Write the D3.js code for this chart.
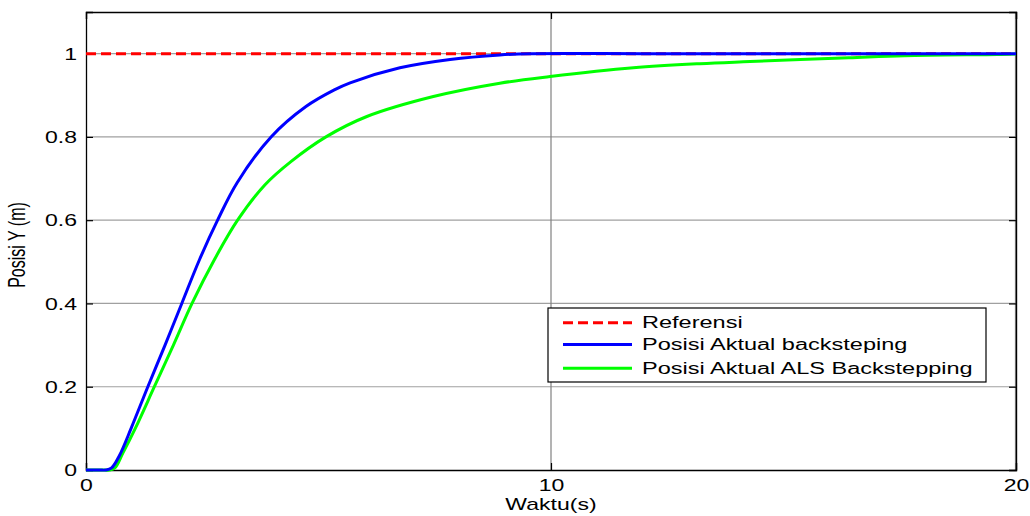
<!DOCTYPE html>
<html><head><meta charset="utf-8">
<script src="https://cdn.jsdelivr.net/npm/d3@7"></script>
<style>
html,body{margin:0;padding:0;background:#fff;}
text{font-family:"Liberation Sans",Arial,sans-serif;}
</style></head>
<body><svg id="chart" width="1030" height="516"></svg>
<script>
const blueTime = [0, 0.3, 0.42, 0.55, 0.72, 0.97, 1.33, 1.7, 2.06, 2.44, 2.83, 3.25, 3.98, 4.73, 5.34, 5.68, 6.75, 7.83, 8.9, 9.55, 12, 15, 20];
const blueVals = [0, 0, 0, 0.005, 0.035, 0.1, 0.2, 0.3, 0.4, 0.505, 0.6, 0.69, 0.8, 0.873, 0.913, 0.93, 0.966, 0.986, 0.997, 1, 1, 1, 1];
const greenTime = [0, 0.35, 0.5, 0.62, 0.79, 1.06, 1.47, 1.88, 2.28, 2.76, 3.26, 3.85, 4.4, 5.16, 6.04, 7.47, 8.9, 9.98, 11.77, 13.2, 14.28, 16.4, 17.6, 19.6, 20];
const greenVals = [0, 0, 0, 0.005, 0.04, 0.1, 0.2, 0.3, 0.4, 0.505, 0.6, 0.685, 0.74, 0.8, 0.849, 0.897, 0.929, 0.945, 0.966, 0.976, 0.981, 0.990, 0.995, 0.998, 0.999];
const refTime = [0, 20];
const refVals = [1, 1];
const xTicks = [0, 10, 20];
const yTicks = [0, 0.2, 0.4, 0.6, 0.8, 1];
const legendLabels = ["Referensi", "Posisi Aktual backsteping", "Posisi Aktual ALS Backstepping"];
const xLabel = "Waktu(s)";
const yLabel = "Posisi Y (m)";

const SX = 1.44;  // horizontal text stretch of the original
const SXL = 1.47; // legend stretch
const svg = d3.select("#chart");
const L = 86, R = 1016, T = 12, B = 470;
const x = d3.scaleLinear().domain([0, 20]).range([L, R]);
const y = d3.scaleLinear().domain([0, 1.1]).range([B, T]);

// grid
const g = svg.append("g");
g.selectAll(".hg").data(yTicks.filter(d => d > 0)).enter().append("line")
  .attr("x1", L).attr("x2", R).attr("y1", d => y(d)).attr("y2", d => y(d))
  .attr("stroke", "#a0a0a0").attr("stroke-width", 1.2);
g.selectAll(".vg").data(xTicks.filter(d => d > 0)).enter().append("line")
  .attr("x1", d => x(d)).attr("x2", d => x(d)).attr("y1", T).attr("y2", B)
  .attr("stroke", "#808080").attr("stroke-width", d => d === 20 ? 2.2 : 1.2);

// axes with inward ticks
const ax = svg.append("g").attr("transform", `translate(0,${B})`)
  .call(d3.axisBottom(x).tickValues(xTicks).tickSize(-7).tickPadding(0).tickFormat(d3.format("d")));
const ay = svg.append("g").attr("transform", `translate(${L},0)`)
  .call(d3.axisLeft(y).tickValues(yTicks).tickSize(-7).tickPadding(0).tickFormat(d => d === 0 || d === 1 ? d3.format("d")(d) : d3.format(".1f")(d)));
svg.append("g").attr("transform", `translate(0,${T})`)
  .call(d3.axisTop(x).tickValues(xTicks).tickSize(-7).tickFormat(""));
svg.append("g").attr("transform", `translate(${R},0)`)
  .call(d3.axisRight(y).tickValues(yTicks).tickSize(-7).tickFormat(""));
svg.selectAll(".domain").attr("stroke", "#000").attr("stroke-width", 1.3);
svg.selectAll(".tick line").attr("stroke", "#000").attr("stroke-width", 1.2);

ax.selectAll("text").attr("font-size", 16).attr("fill", "#000")
  .attr("y", 0).attr("dy", 0)
  .attr("transform", "translate(0,21) scale(" + SX + ",1)");
ay.selectAll("text").attr("font-size", 16).attr("fill", "#000")
  .attr("x", 0).attr("dy", "0.35em")
  .attr("transform", "translate(-9,0) scale(" + SX + ",1)");

// lines
const line = d3.line().x(d => x(d[0])).y(d => y(d[1])).curve(d3.curveCatmullRom.alpha(0.5));
const plot = svg.append("g");
plot.append("path").datum(refTime.map((t, i) => [t, refVals[i]]))
  .attr("d", line).attr("fill", "none").attr("stroke", "#ff0000").attr("stroke-width", 3).attr("stroke-dasharray", "10,5");
plot.append("path").datum(greenTime.map((t, i) => [t, greenVals[i]]))
  .attr("d", line).attr("fill", "none").attr("stroke", "#00ff00").attr("stroke-width", 3);
plot.append("path").datum(blueTime.map((t, i) => [t, blueVals[i]]))
  .attr("d", line).attr("fill", "none").attr("stroke", "#0000ff").attr("stroke-width", 3);

// axis labels
svg.append("text").attr("transform", `translate(${(L + R) / 2},510) scale(${SX},1)`)
  .attr("text-anchor", "middle").attr("font-size", 16).text(xLabel);
svg.append("text").attr("transform", `translate(25,245) scale(${SX},1) rotate(-90)`)
  .attr("text-anchor", "middle").attr("font-size", 16).text(yLabel);

// legend
const lg = svg.append("g");
lg.append("rect").attr("x", 548).attr("y", 308).attr("width", 438).attr("height", 74)
  .attr("fill", "#fff").attr("stroke", "#000").attr("stroke-width", 1.2);
const legColors = ["#ff0000", "#0000ff", "#00ff00"];
const legY = [322.7, 344.5, 368.3];
legendLabels.forEach((lab, i) => {
  lg.append("line").attr("x1", 563).attr("x2", 632).attr("y1", legY[i]).attr("y2", legY[i])
    .attr("stroke", legColors[i]).attr("stroke-width", 3)
    .attr("stroke-dasharray", i === 0 ? "10,5" : null);
  lg.append("text").attr("transform", `translate(642,${legY[i]}) scale(${SXL},1)`)
    .attr("dy", "0.36em").attr("font-size", 16).text(lab);
});
</script></body></html>
